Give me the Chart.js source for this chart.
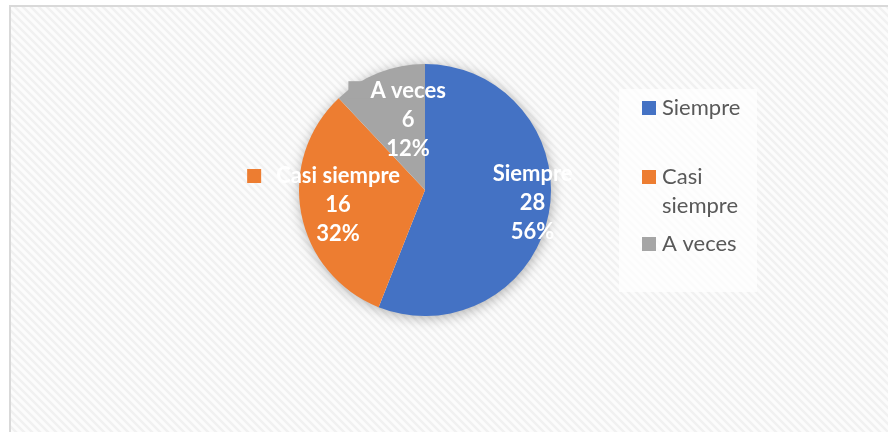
<!DOCTYPE html>
<html>
<head>
<meta charset="utf-8">
<script src="https://cdn.jsdelivr.net/npm/chart.js@4"></script>
<style>
   html, body { margin: 0; padding: 0; background: #fff; }
   #wrap { width: 888px; height: 432px; }
</style>
</head>
<body>
<div id="wrap"><canvas id="pieChart" width="888" height="432"></canvas></div>
<script>
const categories = ['Siempre', 'Casi siempre', 'A veces'];
const counts = [28, 16, 6];
const percents = ['56%', '32%', '12%'];
const colors = ['#4472c4', '#ed7d31', '#a5a5a5'];
const legendLines = [['Siempre'], ['Casi', 'siempre'], ['A veces']];

// stripe background
const pat = document.createElement('canvas');
pat.width = 8; pat.height = 8;
const pctx = pat.getContext('2d');
pctx.fillStyle = '#fcfcfc';
pctx.fillRect(0, 0, 8, 8);
pctx.strokeStyle = '#f1f1f1';
pctx.lineWidth = 2.5;
pctx.beginPath();
pctx.moveTo(-2, -2); pctx.lineTo(10, 10);
pctx.moveTo(-2, 6); pctx.lineTo(2, 10);
pctx.moveTo(6, -2); pctx.lineTo(10, 2);
pctx.stroke();

const backgroundPlugin = {
   id: 'bg',
   beforeDraw: function(chart) {
      const c = chart.ctx;
      c.save();
      c.fillStyle = '#fff';
      c.fillRect(0, 0, chart.width, chart.height);
      c.fillStyle = c.createPattern(pat, 'repeat');
      c.fillRect(10, 6, chart.width - 10, chart.height - 6);
      c.strokeStyle = '#d9d9d9';
      c.lineWidth = 2;
      c.beginPath();
      c.moveTo(10, chart.height); c.lineTo(10, 6); c.lineTo(chart.width, 6);
      c.stroke();
      // legend box
      c.fillStyle = 'rgba(255,255,255,0.7)';
      c.fillRect(619, 89, 138, 203);
      c.restore();
   },
   beforeDatasetsDraw: function(chart) {
      const arc = chart.getDatasetMeta(0).data[0];
      const c = chart.ctx;
      c.save();
      c.shadowColor = 'rgba(0,0,0,0.35)';
      c.shadowBlur = 14;
      c.shadowOffsetX = 1;
      c.shadowOffsetY = 2;
      c.fillStyle = '#ffffff';
      c.beginPath();
      c.arc(arc.x, arc.y, arc.outerRadius - 1, 0, Math.PI * 2);
      c.fill();
      c.restore();
   }
};

const labelRadius = [0.86, 0.70, 0.57];
const labelNudge = [-4, 1, 8]; // degrees
const labelPlugin = {
   id: 'sliceLabels',
   afterDatasetsDraw: function(chart) {
      const c = chart.ctx;
      const meta = chart.getDatasetMeta(0);
      c.save();
      c.font = 'bold 22px Lato';
      c.textAlign = 'center';
      c.textBaseline = 'middle';
      meta.data.forEach(function(arc, i) {
         const mid = (arc.startAngle + arc.endAngle) / 2 + labelNudge[i] * Math.PI / 180;
         const r = arc.outerRadius * labelRadius[i];
         const x = arc.x + Math.cos(mid) * r;
         const y = arc.y + Math.sin(mid) * r;
         const lines = [categories[i], String(counts[i]), percents[i]];
         const w = c.measureText(categories[i]).width;
         const y1 = y - 29;
         if (i === 1) {
            c.fillStyle = colors[i];
            c.fillRect(x - w / 2 - 29, y1 - 7, 14, 14);
         }
         if (i === 2) {
            c.fillStyle = colors[i];
            c.fillRect(x - w / 2 - 22, y1 - 10, w / 2 + 22, 17);
         }
         c.fillStyle = '#ffffff';
         lines.forEach(function(t, k) {
            c.fillText(t, x, y1 + k * 29);
         });
      });
      c.restore();
   },
   afterDraw: function(chart) {
      const c = chart.ctx;
      c.save();
      c.font = '22px Lato';
      c.textBaseline = 'middle';
      c.textAlign = 'left';
      const rows = [108, 177, 244];
      legendLines.forEach(function(lines, i) {
         c.fillStyle = colors[i];
         c.fillRect(642, rows[i] - 7, 14, 14);
         c.fillStyle = '#595959';
         lines.forEach(function(t, k) {
            c.fillText(t, 662, rows[i] + k * 29);
         });
      });
      c.restore();
   }
};

const ctx = document.getElementById('pieChart').getContext('2d');
const pieChart = new Chart(ctx, {
   type: 'pie',
   data: {
      labels: categories,
      datasets: [
         {
            data: counts,
            backgroundColor: colors,
            borderWidth: 0
         }
      ]
   },
   options: {
      responsive: false,
      animation: false,
      layout: {
         padding: { left: 299, right: 337, top: 64, bottom: 116 }
      },
      plugins: {
         legend: { display: false },
         tooltip: { enabled: false }
      }
   },
   plugins: [backgroundPlugin, labelPlugin]
});
</script>
</body>
</html>
